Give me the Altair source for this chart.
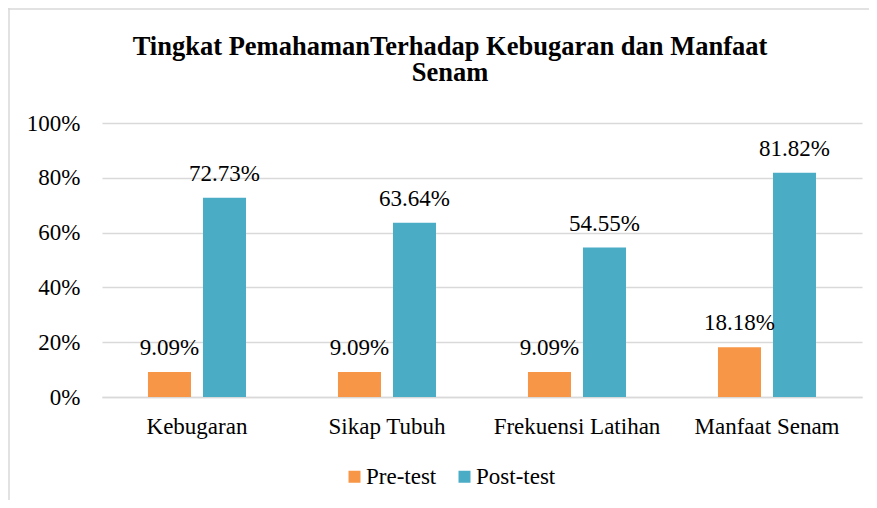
import altair as alt
import pandas as pd

categories = ["Kebugaran", "Sikap Tubuh", "Frekuensi Latihan", "Manfaat Senam"]
series = ["Pre-test", "Post-test"]
pre_test = [9.09, 9.09, 9.09, 18.18]
post_test = [72.73, 63.64, 54.55, 81.82]
colors = ["#F79646", "#4BACC6"]
y_ticks = [0, 20, 40, 60, 80, 100]
title_lines = ["Tingkat PemahamanTerhadap Kebugaran dan Manfaat", "Senam"]

rows = []
for c, a, b in zip(categories, pre_test, post_test):
    rows.append({"cat": c, "series": series[0], "value": a})
    rows.append({"cat": c, "series": series[1], "value": b})
df = pd.DataFrame(rows)
df["label"] = df["value"].map(lambda v: f"{v:.2f}%")

FONT = "Liberation Serif"

x = alt.X(
    "cat:N", sort=categories,
    scale=alt.Scale(paddingInner=0, paddingOuter=0),
    axis=alt.Axis(title=None, labelAngle=0, ticks=False, domain=True,
                  domainColor="#d9d9d9", domainWidth=1.3, labelFontSize=23,
                  labelPadding=18, labelFont=FONT, labelColor="black", grid=False),
)
xo = alt.XOffset("series:N", sort=series,
                 scale=alt.Scale(paddingInner=0.218, paddingOuter=0.836))
y = alt.Y(
    "value:Q", scale=alt.Scale(domain=[0, 100]),
    axis=alt.Axis(title=None, values=y_ticks, labelExpr="datum.value + '%'",
                  ticks=False, domain=False, grid=True, gridColor="#d9d9d9",
                  gridWidth=1.3, labelFontSize=23, labelFont=FONT,
                  labelColor="black", labelPadding=22),
)
color = alt.Color(
    "series:N", sort=series,
    scale=alt.Scale(domain=series, range=colors),
    legend=alt.Legend(title=None, orient="none", direction="horizontal",
                      legendX=241, legendY=342, symbolType="square",
                      symbolSize=144, symbolStrokeWidth=0, labelFontSize=23,
                      labelFont=FONT, labelColor="black", labelOffset=0,
                      columnPadding=16),
)

base = alt.Chart(df)
bars = base.mark_bar().encode(x=x, xOffset=xo, y=y, color=color)
labels = base.mark_text(fontSize=23, font=FONT, color="black",
                        baseline="alphabetic", dy=-17).encode(
    x=x, xOffset=xo, y=y, text="label:N")

frame_df = pd.DataFrame({"k": [0]})
top_border = alt.Chart(frame_df).mark_rule(color="#d9d9d9", strokeWidth=1.5).encode(
    x=alt.value(-94), x2=alt.value(767), y=alt.value(-114))
left_border = alt.Chart(frame_df).mark_rule(color="#d9d9d9", strokeWidth=1.5).encode(
    x=alt.value(-93), y=alt.value(-115), y2=alt.value(377))

chart = alt.layer(bars, labels, top_border, left_border).properties(
    width=760, height=274,
    title=alt.Title(title_lines, font=FONT, fontSize=26.5, fontWeight="bold",
                    color="black", anchor="middle", frame="group", dx=-32,
                    offset=-79, lineHeight=26),
    autosize=alt.AutoSizeParams(type="none"),
    padding={"left": 94, "top": 115, "right": 7, "bottom": 103},
).configure_view(stroke=None)

chart.save("out.html", embed_options={"renderer": "svg", "actions": False})
